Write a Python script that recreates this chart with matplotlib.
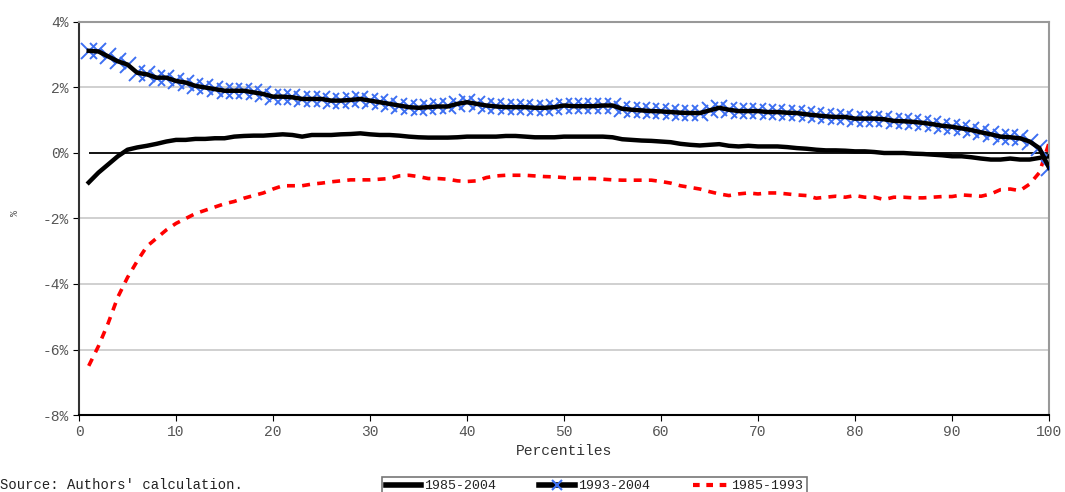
import numpy as np
import matplotlib.pyplot as plt
from matplotlib.lines import Line2D

percentiles = np.arange(1, 101)

g_1985_2004 = [
    -0.9, -0.6, -0.35, -0.1, 0.1, 0.17, 0.22, 0.28, 0.35, 0.4,
    0.4, 0.43, 0.43, 0.45, 0.45, 0.5, 0.52, 0.53, 0.53, 0.55,
    0.57, 0.55, 0.5, 0.55, 0.55, 0.55, 0.57, 0.58, 0.6, 0.57,
    0.55, 0.55, 0.53, 0.5, 0.48, 0.47, 0.47, 0.47, 0.48, 0.5,
    0.5, 0.5, 0.5, 0.52, 0.52, 0.5, 0.48, 0.48, 0.48, 0.5,
    0.5, 0.5, 0.5, 0.5, 0.48, 0.42, 0.4, 0.38, 0.37, 0.35,
    0.33, 0.28, 0.25, 0.23, 0.25, 0.27, 0.22, 0.2, 0.22, 0.2,
    0.2, 0.2, 0.18, 0.15, 0.13, 0.1, 0.08, 0.08, 0.07, 0.05,
    0.05, 0.03, 0.0, 0.0, 0.0, -0.02, -0.03, -0.05, -0.07, -0.1,
    -0.1, -0.13, -0.17, -0.2, -0.2, -0.17, -0.2, -0.2, -0.15, -0.1,
]

g_1993_2004 = [
    3.12, 3.1, 2.95, 2.8, 2.7, 2.45, 2.4, 2.3, 2.3, 2.2,
    2.15, 2.05, 2.0, 1.95, 1.9, 1.9, 1.9, 1.85, 1.8, 1.72,
    1.72, 1.7, 1.65, 1.65, 1.65, 1.6, 1.6, 1.62, 1.65, 1.6,
    1.55, 1.5, 1.45, 1.4, 1.38, 1.4, 1.42, 1.42, 1.5, 1.55,
    1.5, 1.45, 1.42, 1.4, 1.4, 1.4, 1.38, 1.38, 1.4, 1.45,
    1.43, 1.43, 1.43, 1.45, 1.45, 1.35, 1.32, 1.3, 1.28, 1.27,
    1.25, 1.23, 1.22, 1.22, 1.3, 1.38, 1.32, 1.28, 1.28, 1.28,
    1.25, 1.25, 1.23, 1.22, 1.18, 1.15, 1.12, 1.1, 1.1, 1.05,
    1.05, 1.05, 1.03, 0.98, 0.97, 0.95, 0.92, 0.88, 0.83, 0.8,
    0.75, 0.7, 0.63, 0.57, 0.5, 0.48, 0.45, 0.35, 0.15, -0.45,
]

g_1985_1993 = [
    -6.5, -5.9, -5.2, -4.4, -3.8, -3.3, -2.85, -2.6, -2.35, -2.15,
    -2.0, -1.85, -1.75, -1.65, -1.55, -1.48, -1.38, -1.3, -1.22, -1.1,
    -1.0, -1.0, -1.0, -0.95, -0.92, -0.88, -0.85, -0.82, -0.82, -0.82,
    -0.8, -0.78, -0.7, -0.68, -0.72, -0.78, -0.78, -0.8, -0.85, -0.87,
    -0.85, -0.75, -0.7, -0.68, -0.68, -0.68, -0.7, -0.72, -0.73, -0.75,
    -0.78, -0.78, -0.78, -0.8, -0.82, -0.83, -0.83, -0.83, -0.83, -0.87,
    -0.92, -1.0, -1.05, -1.1, -1.18, -1.25, -1.3, -1.25, -1.22, -1.25,
    -1.22, -1.22, -1.25, -1.28, -1.3, -1.38, -1.35, -1.32, -1.35, -1.3,
    -1.35, -1.35, -1.42, -1.35, -1.35, -1.37, -1.37, -1.35, -1.33, -1.33,
    -1.28, -1.3, -1.32, -1.25, -1.12, -1.1, -1.15, -0.95, -0.6, 0.3,
]

series_labels = ["1985-2004", "1993-2004", "1985-1993"]
yticks = [-8, -6, -4, -2, 0, 2, 4]
xticks = list(range(0, 101, 10))

plt.rcParams['font.family'] = ['Liberation Mono', 'DejaVu Sans']
grey = '#555555'
blue = '#3d6ff2'

fig = plt.figure(figsize=(10.65, 4.92), dpi=100)
ax = fig.add_axes([0.0742, 0.1565, 0.9108, 0.7988])

for y in [-6, -4, -2, 2]:
    ax.axhline(y, color='#c8c8c8', lw=1.2, zorder=0)
ax.hlines(0, percentiles[0], percentiles[-1], color='black', lw=1.3, zorder=1)

ax.plot(percentiles, g_1985_1993, color='#ff0000', lw=2.6, dashes=(2.2, 2.0), zorder=2)
ax.plot(percentiles, g_1985_2004, color='black', lw=3.2, zorder=3)
ax.plot(percentiles, g_1993_2004, ls='none', marker='x', ms=11, mew=1.4,
        color=blue, zorder=3)
ax.plot(percentiles, g_1993_2004, color='black', lw=3.2, zorder=4)

ax.set_xlim(0, 100)
ax.set_ylim(-8, 4)
ax.set_xticks(xticks)
ax.set_yticks(yticks)
ax.set_yticklabels([f"{v}%" for v in yticks])
ax.tick_params(axis='both', direction='out', labelsize=10.5, length=4)
ax.tick_params(axis='x', colors='black', labelcolor=grey, pad=3)
ax.tick_params(axis='y', colors='black', labelcolor=grey)
for side in ['top', 'right']:
    ax.spines[side].set_color('#999999')
    ax.spines[side].set_linewidth(1.5)
ax.spines['left'].set_color('#333333')
ax.spines['bottom'].set_color('black')
ax.spines['left'].set_linewidth(1.5)
ax.spines['bottom'].set_linewidth(1.5)

ax.set_xlabel("Percentiles", fontsize=10.5, color='#333333', labelpad=4)
fig.text(0.014, 0.567, "%", fontsize=7, color=grey, rotation=90, ha='center', va='center')
fig.text(0.0, 0.0, "Source: Authors' calculation.", fontsize=10, color='#222222',
         ha='left', va='bottom')

handles = [
    Line2D([], [], color='black', lw=4),
    Line2D([], [], color='black', lw=4, marker='x', ms=7, mew=1.5, mec=blue),
    Line2D([], [], color='#ff0000', lw=3, dashes=(1.6, 1.6)),
]
leg = fig.legend(handles, series_labels, ncol=3, loc='upper left',
                 bbox_to_anchor=(0.359, 0.031), fontsize=9.5, frameon=True,
                 fancybox=False, edgecolor='#555555', handlelength=2.7,
                 handletextpad=0.2, columnspacing=3.3, borderpad=0.25,
                 borderaxespad=0)
leg.get_frame().set_linewidth(1.2)
for t in leg.get_texts():
    t.set_color('#222222')

fig.savefig("out.png", dpi=100)
